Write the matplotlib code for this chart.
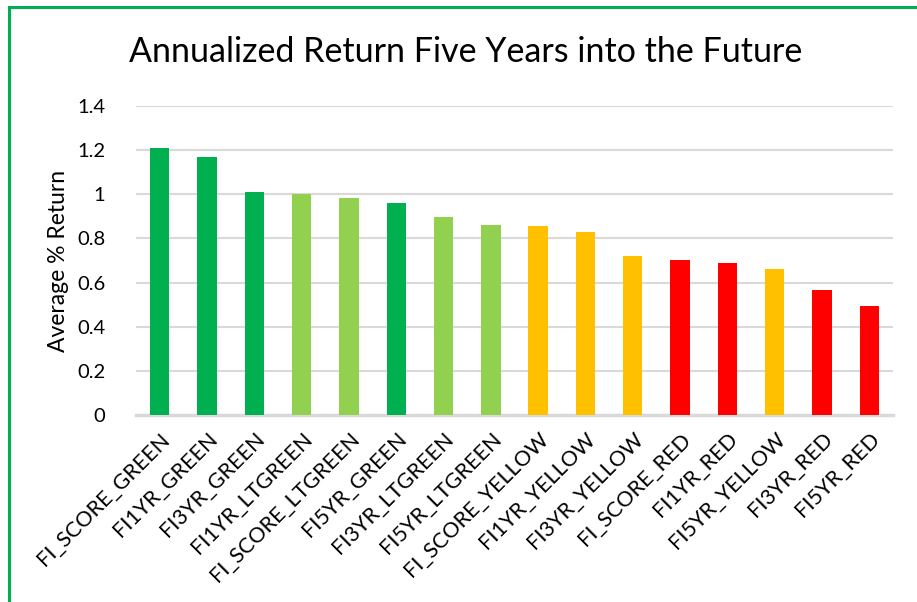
import matplotlib.pyplot as plt
from matplotlib.patches import Rectangle

labels = ['FI_SCORE_GREEN', 'FI1YR_GREEN', 'FI3YR_GREEN', 'FI1YR_LTGREEN',
          'FI_SCORE_LTGREEN', 'FI5YR_GREEN', 'FI3YR_LTGREEN', 'FI5YR_LTGREEN',
          'FI_SCORE_YELLOW', 'FI1YR_YELLOW', 'FI3YR_YELLOW', 'FI_SCORE_RED',
          'FI1YR_RED', 'FI5YR_YELLOW', 'FI3YR_RED', 'FI5YR_RED']
returns = [1.208, 1.170, 1.010, 1.001, 0.983, 0.962, 0.897, 0.861,
           0.856, 0.829, 0.720, 0.702, 0.688, 0.661, 0.566, 0.494]
groups = ['G', 'G', 'G', 'LG', 'LG', 'G', 'LG', 'LG',
          'Y', 'Y', 'Y', 'R', 'R', 'Y', 'R', 'R']

palette = {'G': '#00B050', 'LG': '#92D050', 'Y': '#FFC000', 'R': '#FF0000'}

plt.rcParams['font.family'] = ['Lato', 'DejaVu Sans']

fig = plt.figure(figsize=(9.17, 6.02), dpi=100)
W, H = 917, 602

# green frame around the chart (right/bottom run off the picture)
fig.patches.append(Rectangle((9 / W, -0.1), 1.2, (602 - 7) / H + 0.1,
                             transform=fig.transFigure, fill=False,
                             edgecolor='#00B050', linewidth=2.2))

ax = fig.add_axes([136 / W, (H - 415) / H, (893 - 136) / W, (415 - 106) / H])
x = range(len(labels))
ax.bar(x, returns, width=0.41, color=[palette[g] for g in groups], zorder=3)

ax.set_xlim(-0.5, len(labels) - 0.5)
ax.set_ylim(0, 1.4)
ax.set_yticks([0, 0.2, 0.4, 0.6, 0.8, 1, 1.2, 1.4])
ax.set_yticklabels(['0', '0.2', '0.4', '0.6', '0.8', '1', '1.2', '1.4'], fontsize=14.5)
ax.yaxis.grid(True, color='#D9D9D9', linewidth=1.5, zorder=0)
ax.set_axisbelow(True)
for s in ['top', 'right', 'left']:
    ax.spines[s].set_visible(False)
ax.spines['bottom'].set_color('#D9D9D9')
ax.spines['bottom'].set_linewidth(2.5)
ax.tick_params(length=0)
ax.tick_params(axis='y', pad=22)

ax.set_xticks(list(x))
ax.set_xticklabels(labels, rotation=45, ha='right', va='top',
                   rotation_mode='anchor', fontsize=15.5)
ax.tick_params(axis='x', pad=10)

ax.set_ylabel('Average % Return', fontsize=16.5, labelpad=6)

fig.text(466 / W, 1 - 52 / H, 'Annualized Return Five Years into the Future',
         ha='center', va='center', fontsize=24.5)

fig.savefig('out.png', dpi=100)
